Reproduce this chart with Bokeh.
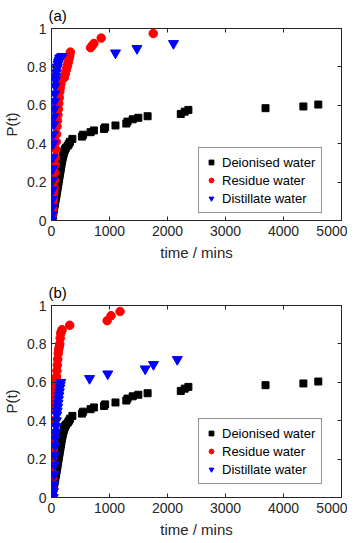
from bokeh.plotting import figure
from bokeh.models import (LinearAxis, FixedTicker, Range1d, Legend, LegendItem,
                          NumeralTickFormatter)
from bokeh.layouts import column
from bokeh.embed import file_html
from bokeh.resources import INLINE

# ---------------- data ----------------
x_ticks = [0, 1000, 2000, 3000, 4000, 5000]
y_ticks = [0, 0.2, 0.4, 0.6, 0.8, 1]
series_names = ["Deionised water", "Residue water", "Distillate water"]
panel_tags = ["(a)", "(b)"]

# Deionised water (same in both panels)
deion_t = [10, 15, 20, 25, 30, 35, 40, 45, 50, 57, 65, 73, 81, 89, 97, 105, 113, 121,
           130, 139, 147, 154, 162, 170, 178, 186, 194, 202, 211, 220, 230, 240, 251,
           280, 300, 320, 360, 525, 545, 674, 731, 905, 925, 1103, 1290, 1310, 1400,
           1497, 1657, 2229, 2297, 2360, 3690, 4343, 4600]
deion_p = [0, 0.01, 0.02, 0.03, 0.04, 0.05, 0.06, 0.07, 0.078, 0.087, 0.1, 0.115, 0.128,
           0.142, 0.156, 0.17, 0.185, 0.2, 0.215, 0.232, 0.247, 0.26, 0.275, 0.29, 0.305,
           0.318, 0.33, 0.34, 0.35, 0.36, 0.368, 0.375, 0.38,
           0.39, 0.40, 0.41, 0.425, 0.437, 0.447, 0.46, 0.469, 0.477, 0.485, 0.495, 0.505,
           0.515, 0.527, 0.535, 0.543, 0.555, 0.567, 0.576, 0.585, 0.594, 0.604]

# Panel (a)
res_a_t = [5, 10, 15, 20, 25, 30, 35, 40, 46, 52, 58, 64, 70, 76, 82, 88, 95, 102, 110,
           118, 126, 134, 142, 150, 160, 171, 222, 240, 255, 268, 280, 292, 304, 315, 325,
           674, 700, 731, 857, 1754]
res_a_p = [0, 0.02, 0.04, 0.06, 0.09, 0.11, 0.13, 0.15, 0.17, 0.21, 0.25, 0.29, 0.33,
           0.37, 0.41, 0.45, 0.49, 0.52, 0.55, 0.58, 0.61, 0.64, 0.67, 0.69, 0.71, 0.73,
           0.745, 0.765, 0.785, 0.8, 0.815, 0.83, 0.845, 0.86, 0.877,
           0.9, 0.91, 0.922, 0.95, 0.974]
dist_a_t = [5, 8, 11, 14, 17, 20, 23, 26, 29, 33, 37, 41, 46, 51, 57, 63, 68, 75, 83, 92,
            101, 111, 121, 131, 142, 160, 180, 1103, 1474, 2103]
dist_a_p = [0, 0.03, 0.07, 0.11, 0.16, 0.21, 0.27, 0.33, 0.40, 0.45, 0.5, 0.54, 0.58,
            0.62, 0.66, 0.70, 0.73, 0.75, 0.77, 0.79, 0.80, 0.815, 0.825, 0.835, 0.845,
            0.85, 0.855, 0.873, 0.896, 0.922]

# Panel (b)
res_b_t = [5, 8, 11, 14, 17, 20, 24, 28, 32, 36, 41, 46, 52, 58, 65, 72, 79, 86, 93, 100,
           108, 116, 124, 133, 143, 150, 160, 170, 183, 314, 959, 1027, 1182]
res_b_p = [0, 0.03, 0.06, 0.1, 0.13, 0.17, 0.21, 0.25, 0.29, 0.33, 0.4, 0.46, 0.5, 0.54,
           0.57, 0.6, 0.615, 0.63, 0.66, 0.69, 0.72, 0.75, 0.77, 0.785, 0.80, 0.83, 0.855,
           0.865, 0.874, 0.897, 0.921, 0.947, 0.969]
dist_b_t = [30, 35, 40, 45, 50, 55, 60, 66, 72, 78, 85, 92, 99, 106, 113, 120, 128, 136,
            144, 152, 160, 656, 970, 1615, 1758, 2169]
dist_b_p = [0, 0.03, 0.07, 0.12, 0.17, 0.22, 0.27, 0.31, 0.34, 0.37, 0.4, 0.43, 0.45,
            0.47, 0.49, 0.51, 0.53, 0.55, 0.57, 0.585, 0.6, 0.62, 0.644, 0.67, 0.693, 0.719]

FONT = "Liberation Sans"
AX = "#262626"


def make_panel(tag, rt, rp, bt, bp, legend_y, border_bottom):
    p = figure(frame_width=290, frame_height=192, x_range=Range1d(0, 5000),
               y_range=Range1d(0, 1), output_backend="svg", toolbar_location=None,
               min_border_left=44, min_border_right=6, min_border_top=0,
               min_border_bottom=border_bottom, title=tag)
    p.title.align = "left"
    p.title.offset = -3
    p.title.standoff = 9
    p.title.text_font = FONT
    p.title.text_font_size = "15px"
    p.title.text_font_style = "normal"
    p.title.text_color = "black"
    p.background_fill_color = "white"
    p.border_fill_color = "white"
    p.grid.visible = False
    p.outline_line_color = AX
    p.outline_line_width = 1

    for ax in (p.xaxis[0], p.yaxis[0]):
        ax.major_tick_in = 4
        ax.major_tick_out = 0
        ax.minor_tick_line_color = None
        ax.axis_line_color = AX
        ax.major_tick_line_color = AX
        ax.major_label_text_font = FONT
        ax.major_label_text_font_size = "14px"
        ax.major_label_text_color = AX
        ax.axis_label_text_font = FONT
        ax.axis_label_text_font_size = "15px"
        ax.axis_label_text_font_style = "normal"
        ax.axis_label_text_color = AX
    p.xaxis.ticker = FixedTicker(ticks=x_ticks)
    p.yaxis.ticker = FixedTicker(ticks=y_ticks)
    p.yaxis.formatter = NumeralTickFormatter(format="0.[0]")
    p.xaxis.axis_label = "time / mins"
    p.yaxis.axis_label = "P(t)"
    p.xaxis.major_label_standoff = 5
    p.xaxis.axis_label_standoff = 5
    p.yaxis.major_label_standoff = 5
    p.yaxis.axis_label_standoff = 4

    # box-style ticks on top and right (no labels)
    top = LinearAxis(ticker=FixedTicker(ticks=x_ticks), major_label_text_color=None,
                     major_tick_in=4, major_tick_out=0, minor_tick_line_color=None,
                     axis_line_color=AX, major_tick_line_color=AX, major_label_standoff=0)
    right = LinearAxis(ticker=FixedTicker(ticks=y_ticks), major_label_text_color=None,
                       major_tick_in=4, major_tick_out=0, minor_tick_line_color=None,
                       axis_line_color=AX, major_tick_line_color=AX, major_label_standoff=0)
    p.add_layout(top, "above")
    p.add_layout(right, "right")

    r1 = p.scatter(deion_t, deion_p, marker="square", size=7, color="black")
    r2 = p.scatter(rt, rp, marker="circle", size=8.5, color="#ff0000")
    r3 = p.scatter(bt, bp, marker="inverted_triangle", size=10, color="#0000ff")

    leg = Legend(items=[LegendItem(label=series_names[0], renderers=[r1]),
                        LegendItem(label=series_names[1], renderers=[r2]),
                        LegendItem(label=series_names[2], renderers=[r3])],
                 location=(147, legend_y))
    leg.label_text_font = FONT
    leg.label_text_font_size = "13px"
    leg.label_text_color = "black"
    leg.glyph_width = 12
    leg.glyph_height = 14
    leg.label_height = 16
    leg.label_standoff = 5
    leg.spacing = 2
    leg.padding = 6
    leg.margin = 0
    leg.border_line_color = AX
    leg.border_line_width = 1
    leg.background_fill_alpha = 1
    p.add_layout(leg, "center")
    return p


pa = make_panel(panel_tags[0], res_a_t, res_a_p, dist_a_t, dist_a_p, 7, 57)
pb = make_panel(panel_tags[1], res_b_t, res_b_p, dist_b_t, dist_b_p, 13, 43)

layout = column(pa, pb, spacing=0)
open("out.html", "w").write(file_html(layout, INLINE))
